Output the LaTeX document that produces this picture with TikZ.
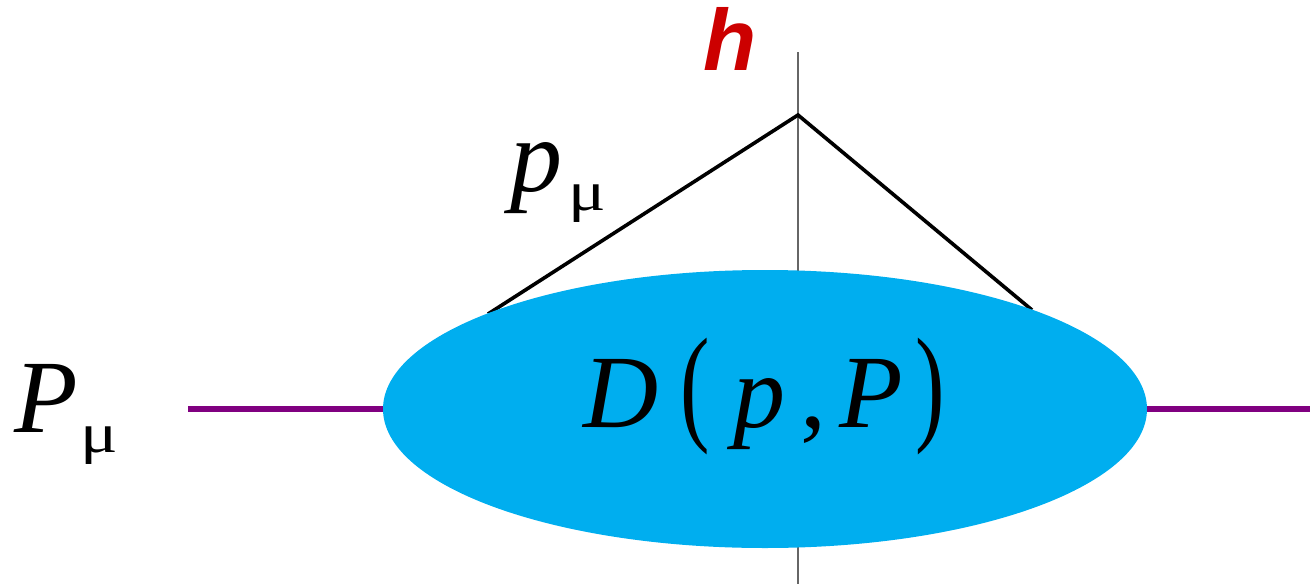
\documentclass[tikz,border=0pt]{standalone}
\usepackage{fontspec}
\setmainfont{Liberation Serif}
\newfontfamily\hfont{Liberation Sans}
\usetikzlibrary{shapes.geometric}
\definecolor{blobcyan}{HTML}{00AEEF}
\definecolor{linepurple}{HTML}{800080}
\definecolor{hred}{HTML}{CC0000}
\definecolor{axisgray}{HTML}{666666}
\newcommand{\at}[2]{\rlap{\hspace*{#1pt}#2}}
\newcommand{\submu}{{\fontsize{56}{56}\selectfont\scalebox{1.25}[1]{μ}}}
\begin{document}
\begin{tikzpicture}[x=1pt,y=-1pt,
  bigtext/.style={font=\fontsize{104}{104}\selectfont, inner sep=0pt, anchor=base west},
  axisline/.style={draw=axisgray, line width=1.6pt},
  momline/.style={draw=black, line width=3.6pt},
  extline/.style={draw=linepurple, line width=5.5pt},
  blobstyle/.style={ellipse, fill=blobcyan, draw=none, inner sep=0pt,
    minimum width=764pt, minimum height=278pt}]
\useasboundingbox (0,0) rectangle (1310,584);
% vertical axis
\coordinate (vtop) at (798,52);
\coordinate (vbot) at (798,584);
\draw[axisline] (vtop) -- (vbot);
% momentum lines
\coordinate (apex) at (798,115);
\coordinate (lend) at (488,314);
\coordinate (rend) at (1032,310);
\draw[momline, line join=miter] (lend) -- (apex) -- (rend);
% blob
\node[blobstyle] (blob) at (765,409) {};
% external lines
\coordinate (extL) at (188,409);
\coordinate (extR) at (1310,409);
\draw[extline] (extL) -- (blob.west);
\draw[extline] (blob.east) -- (extR);
% labels
\node[inner sep=0pt, anchor=base west, text=hred,
  font=\hfont\bfseries\itshape\fontsize{87}{87}\selectfont] (hlab) at (703,70) {h};
\node[bigtext] (plab) at (510,191) {\itshape p\hspace{6pt}\upshape\raisebox{-19pt}{\submu}};
\node[bigtext] (Plab) at (14,432) {\itshape P\hspace{3pt}\upshape\raisebox{-20pt}{\submu}};
\node[bigtext] (Dlab) at (583,427) {\at{0}{\itshape D}\at{97}{\scalebox{0.85}[1.24]{(}}\at{150}{\itshape p}\at{217}{,}\at{256}{\itshape P}\at{332}{\scalebox{0.85}[1.24]{)}}\hspace*{360pt}};
\end{tikzpicture}
\end{document}
